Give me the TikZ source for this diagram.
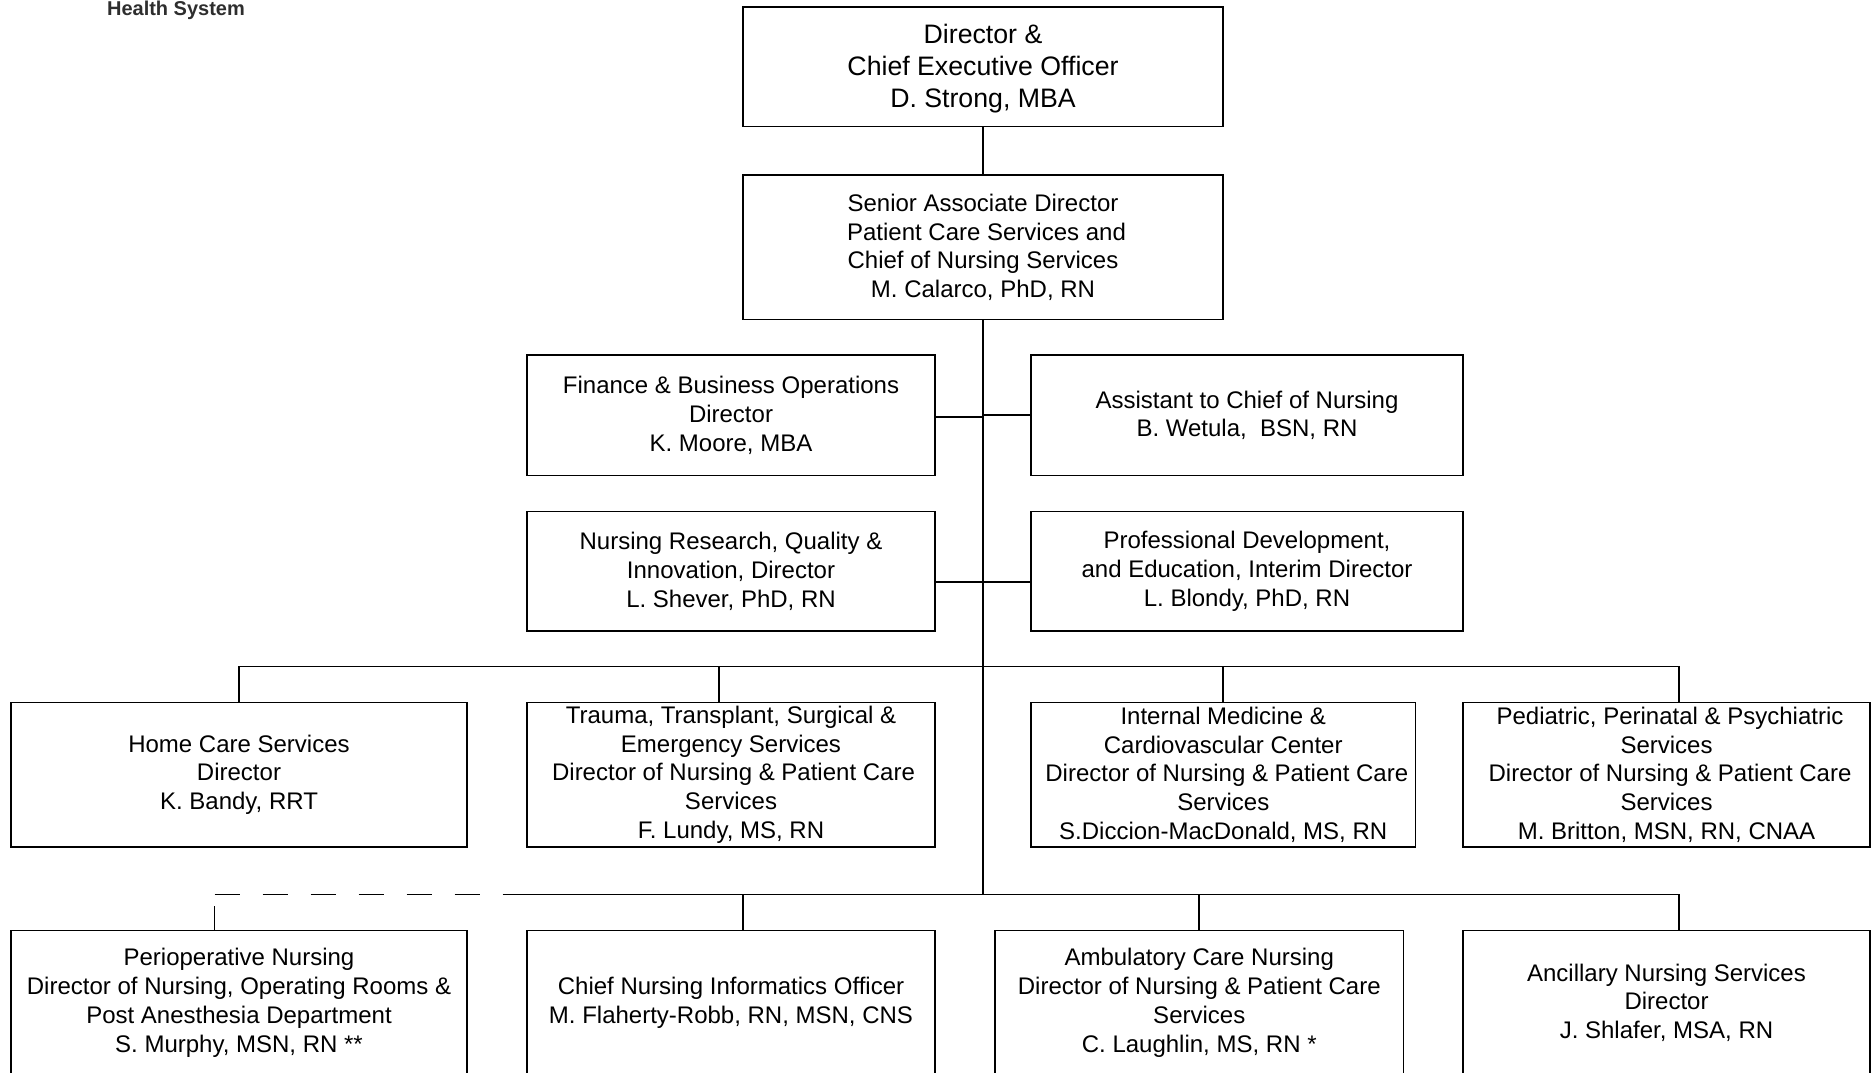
\documentclass[tikz,border=0pt]{standalone}
\usepackage{fontspec}
\setmainfont{Liberation Sans}
\tikzset{
  x=1pt,y=-1pt,
  orgbox/.style={draw=black,line width=1.7pt,align=center,inner sep=0pt,font=\fontsize{24}{28.7}\selectfont},
  bigbox/.style={orgbox,font=\fontsize{26.7}{32}\selectfont},
  link/.style={draw=black,line width=1.7pt},
  logo/.style={inner sep=0pt,anchor=base,text=black!82,font=\fontsize{20}{24}\bfseries\selectfont}
}
\newcommand{\orgnode}[7][orgbox]{%
  \node[#1,minimum width=#4pt-#3pt,minimum height=#6pt-#5pt] (#2) at ({(#3+#4)/2},{(#5+#6)/2}) {#7};}
\begin{document}
\begin{tikzpicture}
\useasboundingbox (0,0) rectangle (1871,1073);
\node[logo] (logotext) at (176,15.5) {Health System};
\orgnode[bigbox]{ceo}{743}{1223}{7}{126.5}{\rule{0pt}{23pt}Director \&\\Chief Executive Officer\\D. Strong, MBA}
\orgnode{sen}{743}{1223}{175}{319.5}{Senior Associate Director\\\hspace*{7pt}Patient Care Services and\\Chief of Nursing Services\\M. Calarco, PhD, RN}
\orgnode{fin}{527}{935}{355}{475.5}{Finance \& Business Operations\\Director\\K. Moore, MBA}
\orgnode{asst}{1031}{1463}{355}{475.5}{Assistant to Chief of Nursing\\B. Wetula,\ \ BSN, RN}
\orgnode{res}{527}{935}{511.5}{631}{Nursing Research, Quality \&\\Innovation, Director\\L. Shever, PhD, RN}
\orgnode{dev}{1031}{1463}{511.5}{631}{Professional Development,\\and Education, Interim Director\\L. Blondy, PhD, RN}
\orgnode{home}{11}{467}{702.5}{847}{Home Care Services\\Director\\K. Bandy, RRT}
\orgnode{trauma}{527}{935}{702.5}{847}{Trauma, Transplant, Surgical \&\\Emergency Services\\\hspace*{5pt}Director of Nursing \& Patient Care\\Services\\F. Lundy, MS, RN}
\orgnode{med}{1031}{1415.5}{702.5}{847}{Internal Medicine \&\\Cardiovascular Center\\\hspace*{7pt}Director of Nursing \& Patient Care\\Services\\S.Diccion-MacDonald, MS, RN}
\orgnode{ped}{1463}{1870}{702.5}{847}{\hspace*{7pt}Pediatric, Perinatal \& Psychiatric\\Services\\\hspace*{7pt}Director of Nursing \& Patient Care\\Services\\M. Britton, MSN, RN, CNAA}
\orgnode{peri}{11}{467}{930.5}{1075}{Perioperative Nursing\\Director of Nursing, Operating Rooms \&\\Post Anesthesia Department\\S. Murphy, MSN, RN **}
\orgnode{cnio}{527}{935}{930.5}{1075}{Chief Nursing Informatics Officer\\M. Flaherty-Robb, RN, MSN, CNS}
\orgnode{amb}{995}{1403.5}{930.5}{1075}{Ambulatory Care Nursing\\Director of Nursing \& Patient Care\\Services\\C. Laughlin, MS, RN *}
\orgnode{anc}{1463}{1870}{930.5}{1075}{Ancillary Nursing Services\\Director\\J. Shlafer, MSA, RN}
\coordinate (busa) at (983,666.5);
\coordinate (busb) at (983,894.5);
\coordinate (dashl) at (214.5,894.5);
\coordinate (dashr) at (502.5,894.5);
\coordinate (stubtop) at (214.5,906);
\draw[link] (ceo.south) -- (sen.north);
\draw[link] (sen.south) -- (busb);
\draw[link] ([yshift=-1.5pt]fin.east) -- ([yshift=-1.5pt]fin.east -| busa);
\draw[link] (asst.west) -- (asst.west -| busa);
\draw[link] ([yshift=-11pt]res.east) -- ([yshift=-11pt]res.east -| busa);
\draw[link] ([yshift=-11pt]dev.west) -- ([yshift=-11pt]dev.west -| busa);
\draw[link] (busa) -| (home.north);
\draw[link] (busa) -| ([xshift=-12pt]trauma.north);
\draw[link] (busa) -| (med.north);
\draw[link] (busa) -| ([xshift=12.5pt]ped.north);
\draw[link] (busb) -- (dashr);
\draw[link,dash pattern=on 25.6pt off 22.4pt] (dashl) -- (dashr);
\draw[link] (stubtop) -- (stubtop |- peri.north);
\draw[link] (busb) -| ([xshift=12pt]cnio.north);
\draw[link] (busb) -| (amb.north);
\draw[link] (busb) -| ([xshift=12.5pt]anc.north);
\end{tikzpicture}
\end{document}
